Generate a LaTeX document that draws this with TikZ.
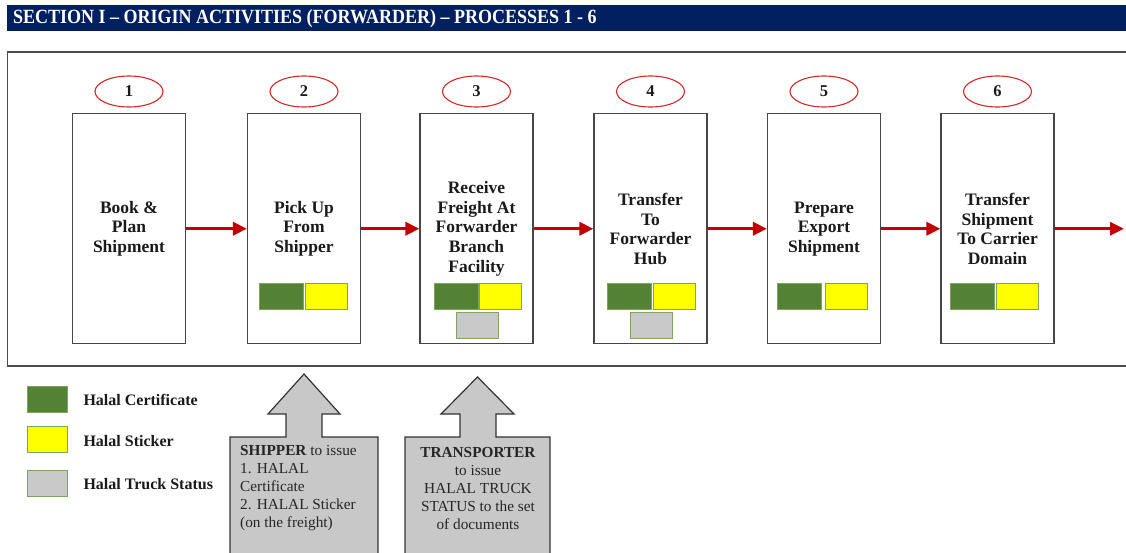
\documentclass[tikz,border=0pt]{standalone}
\usepackage{fontspec}
\setmainfont{Liberation Serif}
\usetikzlibrary{arrows.meta,shapes.geometric}
\definecolor{navy}{RGB}{0,32,96}
\definecolor{redarrow}{RGB}{192,0,0}
\definecolor{ellred}{RGB}{210,40,40}
\definecolor{halgreen}{RGB}{84,130,53}
\definecolor{halyellow}{RGB}{255,255,0}
\definecolor{halgray}{RGB}{201,201,201}
\definecolor{halborder}{RGB}{125,165,95}
\definecolor{boxline}{RGB}{70,70,70}
\definecolor{callfill}{RGB}{200,200,200}
\definecolor{txt}{RGB}{26,26,26}
\begin{document}
\begin{tikzpicture}[x=1pt,y=-1pt,
  procbox/.style={draw=boxline,line width=1.2pt,fill=white,minimum width=113pt,minimum height=230pt,inner sep=0pt,align=center,text=txt,font=\fontsize{17.5}{19.6}\selectfont\bfseries},
  numell/.style={draw=ellred,line width=1.1pt,ellipse,minimum width=68pt,minimum height=31pt,inner sep=0pt,text=txt,font=\fontsize{16.5}{18}\selectfont\bfseries},
  cert/.style={draw=halborder,line width=0.9pt,fill=halgreen,minimum width=44pt,minimum height=26pt,inner sep=0pt},
  stick/.style={draw=halborder,line width=0.9pt,fill=halyellow,minimum width=42pt,minimum height=26pt,inner sep=0pt},
  truck/.style={draw=halborder,line width=0.9pt,fill=halgray,minimum width=42pt,minimum height=26pt,inner sep=0pt},
  redarr/.style={draw=redarrow,line width=3.2pt,-{Triangle[length=14pt,width=13pt]}},
  legtext/.style={anchor=west,text=txt,font=\fontsize{16}{18}\selectfont\bfseries},
  callout/.style={draw=black!80,line width=1.2pt,fill=callfill},
  calltext/.style={text=black!85,font=\fontsize{15.3}{18}\selectfont,inner sep=0pt}
]
\useasboundingbox (0,0) rectangle (1126,552);
\clip (0,0) rectangle (1126,552);
% title bar
\fill[navy] (7,5) rectangle (1140,31);
\node[anchor=west,text=white,inner sep=0pt,font=\fontsize{18}{20}\selectfont\bfseries] (title) at (13,18.5) {\scalebox{1}[1.12]{SECTION I – ORIGIN ACTIVITIES (FORWARDER) – PROCESSES 1 - 6}};
% outer frame
\draw[draw=black!70,line width=1.4pt] (7.5,52) rectangle (1140,366);
% process boxes
\node[procbox] (b1) at (129,228.75) {Book \&\\Plan\\Shipment};
\node[procbox] (b2) at (304,228.75) {Pick Up\\From\\Shipper};
\node[procbox] (b3) at (476.5,228.75) {Receive\\Freight At\\Forwarder\\Branch\\Facility};
\node[procbox] (b4) at (650.5,228.75) {Transfer\\To\\Forwarder\\Hub};
\node[procbox] (b5) at (824,228.75) {Prepare\\Export\\Shipment};
\node[procbox] (b6) at (997.5,228.75) {Transfer\\Shipment\\To Carrier\\Domain};
% numbers
\node[numell] (n1) at (129,91.5) {1};
\node[numell] (n2) at (304,91.5) {2};
\node[numell] (n3) at (476.5,91.5) {3};
\node[numell] (n4) at (650.5,91.5) {4};
\node[numell] (n5) at (824,91.5) {5};
\node[numell] (n6) at (997.5,91.5) {6};
% arrows
\coordinate (end) at (1124,228.75);
\draw[redarr] (b1.east) -- (b2.west);
\draw[redarr] (b2.east) -- (b3.west);
\draw[redarr] (b3.east) -- (b4.west);
\draw[redarr] (b4.east) -- (b5.west);
\draw[redarr] (b5.east) -- (b6.west);
\draw[redarr] (b6.east) -- (end);
% document squares
\node[cert] (c2) at (281,296) {};
\node[stick] (s2) at (326,296) {};
\node[cert] (c3) at (456.5,296) {};
\node[stick] (s3) at (500,296) {};
\node[truck] (t3) at (477,325) {};
\node[cert] (c4) at (629,296) {};
\node[stick] (s4) at (674,296) {};
\node[truck] (t4) at (651,325) {};
\node[cert] (c5) at (799,296) {};
\node[stick] (s5) at (846,296) {};
\node[cert] (c6) at (972.5,296) {};
\node[stick] (s6) at (1017.5,296) {};
% legend
\node[cert,minimum width=40pt] (l1) at (47,399) {};
\node[stick,minimum width=40pt] (l2) at (47,439) {};
\node[truck,minimum width=40pt] (l3) at (47,483.5) {};
\node[legtext] (lt1) at (80,400) {Halal Certificate};
\node[legtext] (lt2) at (80,441) {Halal Sticker};
\node[legtext] (lt3) at (80,484) {Halal Truck Status};
% callouts
\draw[callout] (230,560) -- (230,437) -- (286,437) -- (286,414) -- (268,414) -- (304,374) -- (340,414) -- (322,414) -- (322,437) -- (378,437) -- (378,560) -- cycle;
\draw[callout] (405,560) -- (405,437) -- (460,437) -- (460,414) -- (441,414) -- (477.5,377) -- (514,414) -- (496,414) -- (496,437) -- (550,437) -- (550,560) -- cycle;
\node[calltext,anchor=west,align=left] (ship) at (240,488) {\textbf{SHIPPER} to issue\\1. HALAL\\Certificate\\2. HALAL Sticker\\(on the freight)};
\node[calltext,align=center] (trans) at (478,488) {\textbf{TRANSPORTER}\\to issue\\HALAL TRUCK\\STATUS to the set\\of documents};
\end{tikzpicture}
\end{document}
